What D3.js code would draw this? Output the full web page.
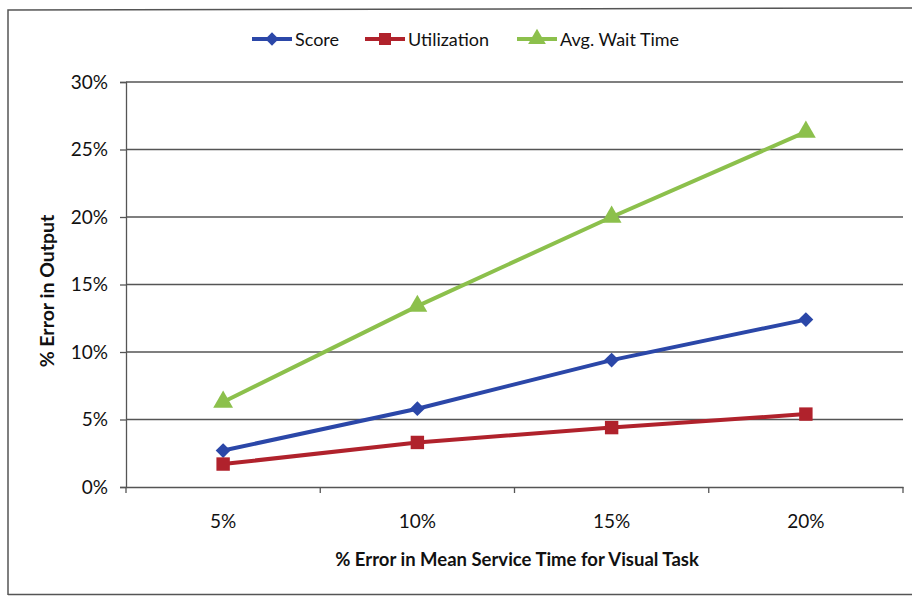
<!DOCTYPE html>
<html><head><meta charset="utf-8">
<script src="https://cdn.jsdelivr.net/npm/d3@7"></script>
<style>body{margin:0;background:#fff}svg{display:block}</style>
</head><body><svg id="c" width="912" height="596"></svg>
<script>
const categories = ["5%", "10%", "15%", "20%"];
const seriesNames = ["Score", "Utilization", "Avg. Wait Time"];
const scoreValues = [2.7, 5.8, 9.4, 12.4];
const utilizationValues = [1.7, 3.3, 4.4, 5.4];
const waitTimeValues = [6.3, 13.4, 20.0, 26.3];
const yTicks = [0, 5, 10, 15, 20, 25, 30];
const xTitle = "% Error in Mean Service Time for Visual Task";
const yTitle = "% Error in Output";

(function(){
const series = [
  {name: seriesNames[0], values: scoreValues, color: "#2b47a8", shape: "diamond"},
  {name: seriesNames[1], values: utilizationValues, color: "#b0222c", shape: "square"},
  {name: seriesNames[2], values: waitTimeValues, color: "#8cc04c", shape: "triangle"}
];
function marker(shape, scale){
  if (shape === "diamond") return {d: d3.symbol().type(d3.symbolSquare).size(110*scale)(), rot: 45};
  if (shape === "square") return {d: d3.symbol().type(d3.symbolSquare).size(180*scale)(), rot: 0};
  return {d: d3.symbol().type(d3.symbolTriangle).size(170*scale)(), rot: 0};
}

const svg = d3.select("#c");
const font = "Lato, 'Open Sans', sans-serif";
const pLeft = 126, pRight = 903, pTop = 82, pBottom = 487;

svg.append("path").attr("d", "M8,595 L8,10 L912,8").attr("fill","none").attr("stroke","#555").attr("stroke-width",1.5);
svg.append("line").attr("x1",8).attr("x2",912).attr("y1",594.5).attr("y2",594.5).attr("stroke","#555").attr("stroke-width",1.5);

const x = d3.scaleBand().domain(categories).range([pLeft, pRight]);
const y = d3.scaleLinear().domain([0, 30]).range([pBottom, pTop]);

svg.append("g").selectAll("line").data(yTicks.filter(d=>d>0)).join("line")
  .attr("x1", pLeft).attr("x2", pRight).attr("y1", d=>y(d)).attr("y2", d=>y(d))
  .attr("stroke", "#555").attr("stroke-width", 1.3);

const yAxis = svg.append("g").attr("transform", `translate(${pLeft},0)`)
  .call(d3.axisLeft(y).tickValues(yTicks).tickFormat(d=>d+"%").tickSize(6).tickPadding(12));
yAxis.select(".domain").attr("stroke","#555").attr("stroke-width",1.3);
yAxis.selectAll(".tick line").attr("stroke","#555").attr("stroke-width",1.3);
yAxis.selectAll("text").attr("font-family",font).attr("font-size",19).attr("fill","#111");

const xAxis = svg.append("g").attr("transform", `translate(0,${pBottom})`)
  .call(d3.axisBottom(x).tickSize(0).tickPadding(28));
xAxis.select(".domain").attr("stroke","#555").attr("stroke-width",1.3);
xAxis.selectAll("text").attr("font-family",font).attr("font-size",19).attr("fill","#111");
const bounds = categories.map(c=>x(c)).concat([pRight]);
svg.append("g").selectAll("line").data(bounds).join("line")
  .attr("x1",d=>d).attr("x2",d=>d).attr("y1",pBottom).attr("y2",pBottom+6)
  .attr("stroke","#555").attr("stroke-width",1.3);

svg.append("text").attr("x", 517).attr("y", 566).attr("text-anchor","middle")
  .attr("font-family",font).attr("font-weight","bold").attr("font-size",18.5).attr("fill","#111").text(xTitle);
svg.append("text").attr("transform","translate(54,291) rotate(-90)").attr("text-anchor","middle")
  .attr("font-family",font).attr("font-weight","bold").attr("font-size",19.5).attr("fill","#111").text(yTitle);

const cx = c => x(c) + x.bandwidth()/2;
const line = d3.line().x((d,i)=>cx(categories[i])).y(d=>y(d));
series.forEach(s=>{
  const m = marker(s.shape, 1);
  svg.append("path").datum(s.values).attr("d", line).attr("fill","none")
    .attr("stroke", s.color).attr("stroke-width", 4).attr("stroke-linejoin","round");
  svg.append("g").selectAll("path").data(s.values).join("path")
    .attr("transform",(d,i)=>`translate(${cx(categories[i])},${y(d)}) rotate(${m.rot})`)
    .attr("d", m.d).attr("fill", s.color);
});

const legendX = [252, 365, 517];
series.forEach((s,i)=>{
  const m = marker(s.shape, 0.8);
  const g = svg.append("g").attr("transform",`translate(${legendX[i]},39)`);
  g.append("line").attr("x1",0).attr("x2",40).attr("stroke",s.color).attr("stroke-width",4);
  g.append("path").attr("transform",`translate(20,0) rotate(${m.rot})`).attr("d", m.d).attr("fill",s.color);
  g.append("text").attr("x",43).attr("y",6.5).attr("font-family",font).attr("font-size",18).attr("fill","#111").text(s.name);
});
})();
</script></body></html>
